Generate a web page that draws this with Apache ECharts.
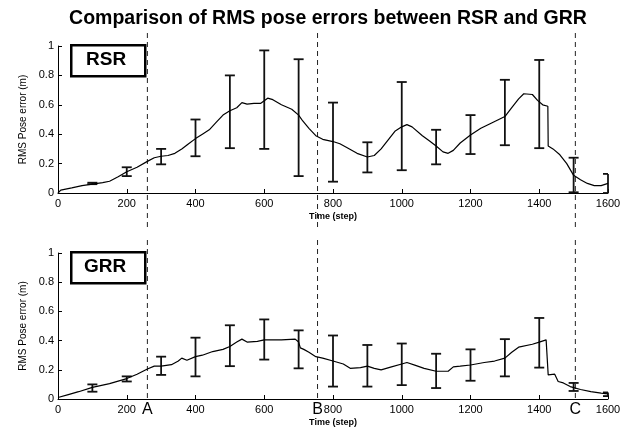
<!DOCTYPE html>
<html>
<head>
<meta charset="utf-8">
<script src="https://cdn.jsdelivr.net/npm/echarts@6/dist/echarts.min.js"></script>
<style>
  html, body { margin: 0; padding: 0; background: #fff; }
  #chart { width: 637px; height: 434px; }
</style>
</head>
<body>
<div id="chart"></div>
<script>
// mean RMS pose error traces
const rsrT = [0, 8, 40, 70, 100, 130, 150, 175, 200, 230, 260, 280, 300, 320, 340, 360, 380, 400, 420, 440, 460, 480, 500, 520, 535, 550, 570, 590, 610, 625, 650, 680, 700, 712, 730, 750, 770, 800, 820, 840, 870, 900, 920, 940, 960, 980, 1000, 1015, 1030, 1060, 1080, 1100, 1120, 1135, 1150, 1170, 1200, 1230, 1260, 1300, 1320, 1340, 1355, 1380, 1395, 1410, 1425, 1426, 1440, 1460, 1480, 1500, 1520, 1540, 1560, 1580, 1600]
const rsrE = [0, 0.02, 0.035, 0.05, 0.06, 0.07, 0.08, 0.11, 0.145, 0.175, 0.215, 0.24, 0.25, 0.255, 0.27, 0.3, 0.335, 0.37, 0.4, 0.43, 0.48, 0.53, 0.56, 0.58, 0.615, 0.605, 0.61, 0.61, 0.645, 0.635, 0.6, 0.57, 0.53, 0.49, 0.44, 0.39, 0.365, 0.35, 0.335, 0.31, 0.27, 0.245, 0.255, 0.3, 0.36, 0.42, 0.45, 0.465, 0.45, 0.39, 0.355, 0.32, 0.28, 0.27, 0.29, 0.34, 0.395, 0.44, 0.475, 0.52, 0.58, 0.64, 0.675, 0.67, 0.63, 0.6, 0.59, 0.32, 0.3, 0.26, 0.2, 0.12, 0.09, 0.065, 0.05, 0.05, 0.065]

const grrT = [0, 30, 60, 100, 150, 200, 230, 260, 280, 300, 330, 350, 360, 375, 400, 420, 450, 480, 500, 520, 535, 550, 580, 600, 650, 690, 700, 705, 715, 730, 750, 770, 800, 830, 850, 880, 900, 920, 940, 970, 1000, 1015, 1040, 1065, 1100, 1135, 1150, 1170, 1200, 1240, 1270, 1300, 1320, 1340, 1380, 1400, 1420, 1425, 1426, 1445, 1455, 1470, 1490, 1520, 1550, 1580, 1600]
const grrE = [0.01, 0.03, 0.05, 0.08, 0.105, 0.14, 0.17, 0.205, 0.225, 0.225, 0.235, 0.26, 0.28, 0.265, 0.29, 0.3, 0.325, 0.34, 0.36, 0.39, 0.41, 0.39, 0.395, 0.405, 0.405, 0.41, 0.39, 0.35, 0.34, 0.32, 0.29, 0.28, 0.26, 0.24, 0.21, 0.215, 0.225, 0.21, 0.2, 0.22, 0.24, 0.25, 0.23, 0.21, 0.19, 0.19, 0.22, 0.225, 0.233, 0.25, 0.26, 0.28, 0.32, 0.355, 0.375, 0.39, 0.405, 0.415, 0.165, 0.17, 0.12, 0.11, 0.085, 0.065, 0.05, 0.04, 0.035]

// error bars every 100 steps
const barT = [100, 200, 300, 400, 500, 600, 700, 800, 900, 1000, 1100, 1200, 1300, 1400, 1500, 1600]
const rsrHigh = [0.07, 0.175, 0.30, 0.50, 0.80, 0.97, 0.91, 0.615, 0.345, 0.755, 0.43, 0.53, 0.77, 0.905, 0.24, 0.13]
const rsrLow = [0.06, 0.115, 0.195, 0.25, 0.305, 0.30, 0.115, 0.077, 0.14, 0.155, 0.195, 0.265, 0.325, 0.305, 0.005, 0.0]
const grrHigh = [0.10, 0.155, 0.29, 0.42, 0.505, 0.545, 0.47, 0.435, 0.37, 0.38, 0.31, 0.34, 0.41, 0.555, 0.11, 0.045]
const grrLow = [0.05, 0.12, 0.165, 0.155, 0.225, 0.27, 0.21, 0.085, 0.085, 0.095, 0.075, 0.125, 0.155, 0.215, 0.055, 0.02]

// event markers
const eventT = [260, 755, 1505]
const eventNames = ['A', 'B', 'C']

const font = 'Arial, "Liberation Sans", sans-serif'
const zip = (a, b) => a.map((v, i) => [v, b[i]])

function errorBars(low, high) {
    return {
        type: 'custom',
        silent: true,
        renderItem: (params, api) => {
            const x = api.value(0)
            const top = api.coord([x, api.value(2)])
            const bot = api.coord([x, api.value(1)])
            const w = 5
            const right = x >= 1600 ? 0 : w
            const st = { stroke: '#111', lineWidth: 1.8 }
            return {
                type: 'group',
                children: [
                    { type: 'line', shape: { x1: top[0], y1: top[1], x2: bot[0], y2: bot[1] }, style: st },
                    { type: 'line', shape: { x1: top[0] - w, y1: top[1], x2: top[0] + right, y2: top[1] }, style: st },
                    { type: 'line', shape: { x1: bot[0] - w, y1: bot[1], x2: bot[0] + right, y2: bot[1] }, style: st }
                ]
            }
        },
        data: barT.map((t, i) => [t, low[i], high[i]]),
        z: 3
    }
}

function eventLines(idx, below, withLabel) {
    return {
        type: 'custom',
        silent: true,
        xAxisIndex: idx,
        yAxisIndex: idx,
        renderItem: (params, api) => {
            const p1 = api.coord([api.value(0), 1])
            const p0 = api.coord([api.value(0), 0])
            const kids = [{
                type: 'line',
                shape: { x1: p1[0], y1: p1[1] - 13, x2: p0[0], y2: p0[1] + below },
                style: { stroke: '#222', lineWidth: 1, lineDash: [5, 4] }
            }]
            if (withLabel) {
                kids.push({
                    type: 'text',
                    x: p0[0], y: p0[1] + 11,
                    style: { text: eventNames[params.dataIndex], fill: '#000', font: '16px ' + font, align: 'center', verticalAlign: 'middle' }
                })
            }
            return { type: 'group', children: kids }
        },
        data: eventT.map(t => [t]),
        z: 2
    }
}

const xAxisBase = {
    type: 'value', min: 0, max: 1600, interval: 200,
    name: 'Time (step)', nameLocation: 'middle', nameGap: 19,
    nameTextStyle: { color: '#000', fontSize: 9, fontWeight: 'bold', fontFamily: font },
    axisLine: { lineStyle: { color: '#000', width: 1 } },
    axisTick: { inside: true, length: 4, lineStyle: { color: '#000' } },
    axisLabel: { color: '#000', fontSize: 11, fontFamily: font, margin: 5, formatter: v => String(v) },
    splitLine: { show: false }
}
const yAxisBase = {
    type: 'value', min: 0, max: 1, interval: 0.2,
    name: 'RMS Pose error (m)', nameLocation: 'middle', nameGap: 30,
    nameTextStyle: { color: '#000', fontSize: 10, fontFamily: font },
    axisLine: { show: true, lineStyle: { color: '#000', width: 1 } },
    axisTick: { show: true, inside: true, length: 4, lineStyle: { color: '#000' } },
    axisLabel: { color: '#000', fontSize: 11, fontFamily: font, margin: 4 },
    splitLine: { show: false }
}

const chart = echarts.init(document.getElementById('chart'))
chart.setOption({
    backgroundColor: '#fff',
    animation: false,
    title: {
        text: 'Comparison of RMS pose errors between RSR and GRR',
        left: 323, top: 4, textAlign: 'center',
        textStyle: { color: '#000', fontSize: 19.5, fontWeight: 'bold', fontFamily: font }
    },
    grid: [
        { left: 58, right: 29, top: 46, height: 147 },
        { left: 58, right: 29, top: 253, height: 146 }
    ],
    xAxis: [
        Object.assign({ gridIndex: 0 }, xAxisBase),
        Object.assign({ gridIndex: 1 }, xAxisBase)
    ],
    yAxis: [
        Object.assign({ gridIndex: 0 }, yAxisBase),
        Object.assign({ gridIndex: 1 }, yAxisBase)
    ],
    graphic: [
        { type: 'rect', left: 70, top: 44, shape: { width: 74, height: 31 }, style: { fill: '#fff', stroke: '#000', lineWidth: 2.5 }, z: 10 },
        { type: 'text', left: 86, top: 50, style: { text: 'RSR', fill: '#000', font: 'bold 19px ' + font }, z: 11 },
        { type: 'rect', left: 70, top: 251, shape: { width: 74, height: 31 }, style: { fill: '#fff', stroke: '#000', lineWidth: 2.5 }, z: 10 },
        { type: 'text', left: 84, top: 257, style: { text: 'GRR', fill: '#000', font: 'bold 19px ' + font }, z: 11 }
    ],
    series: [
        {
            type: 'line', xAxisIndex: 0, yAxisIndex: 0, data: zip(rsrT, rsrE),
            showSymbol: false, lineStyle: { color: '#000', width: 1.2 }, z: 4
        },
        Object.assign(errorBars(rsrLow, rsrHigh), { xAxisIndex: 0, yAxisIndex: 0 }),
        eventLines(0, 36, false),
        {
            type: 'line', xAxisIndex: 1, yAxisIndex: 1, data: zip(grrT, grrE),
            showSymbol: false, lineStyle: { color: '#000', width: 1.2 }, z: 4
        },
        Object.assign(errorBars(grrLow, grrHigh), { xAxisIndex: 1, yAxisIndex: 1 }),
        eventLines(1, 3, true)
    ]
})
</script>
</body>
</html>
